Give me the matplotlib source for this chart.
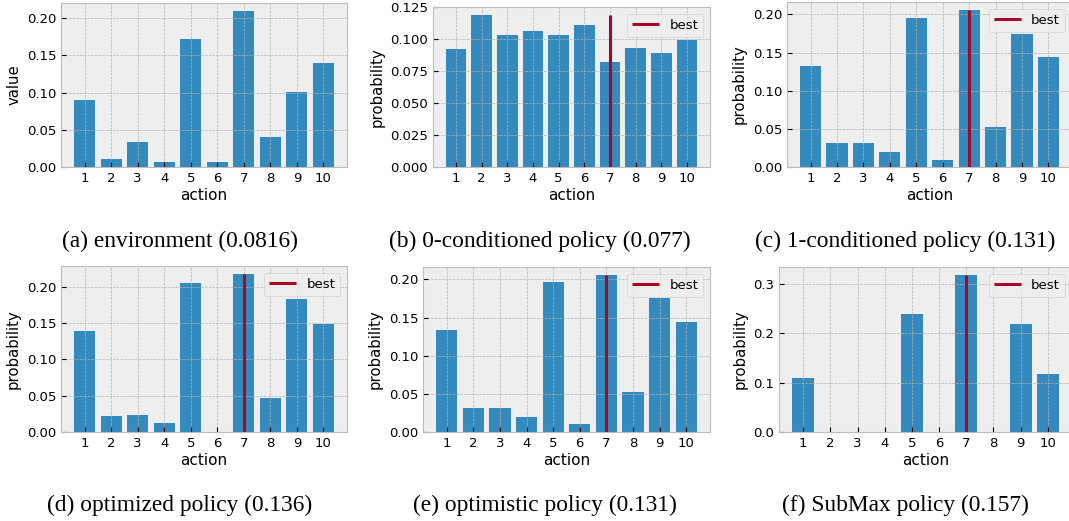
import numpy as np
import matplotlib
matplotlib.use("Agg")
import matplotlib.pyplot as plt

plt.style.use("bmh")

actions = np.arange(1, 11)
best = 7

env_value = [0.090, 0.011, 0.033, 0.007, 0.172, 0.007, 0.210, 0.041, 0.101, 0.140]
p_zero = [0.092, 0.119, 0.1035, 0.106, 0.103, 0.111, 0.082, 0.093, 0.089, 0.099]
p_one = [0.133, 0.031, 0.031, 0.020, 0.195, 0.009, 0.206, 0.052, 0.175, 0.144]
p_optimized = [0.139, 0.022, 0.023, 0.012, 0.206, 0.0005, 0.218, 0.047, 0.184, 0.149]
p_optimistic = [0.134, 0.031, 0.031, 0.020, 0.196, 0.010, 0.206, 0.052, 0.176, 0.144]
p_submax = [0.109, 0.001, 0.001, 0.001, 0.239, 0.001, 0.318, 0.001, 0.219, 0.117]

captions = ["(a) environment (0.0816)", "(b) 0-conditioned policy (0.077)",
            "(c) 1-conditioned policy (0.131)", "(d) optimized policy (0.136)",
            "(e) optimistic policy (0.131)", "(f) SubMax policy (0.157)"]

W, H = 1069, 521
fig = plt.figure(figsize=(W / 100, H / 100), dpi=100)
fig.patch.set_facecolor("white")

# left, right, top, bottom in pixels
boxes = [(61, 347, 3, 167), (433, 710, 7, 167), (787, 1072, 2, 167),
         (61, 347, 266, 432), (423, 710, 267, 432), (779, 1072, 267, 432)]
cap_pos = [(180, 241), (540, 241), (905, 241), (180, 505), (545, 505), (905, 505)]
series = [env_value, p_zero, p_one, p_optimized, p_optimistic, p_submax]

for i, (vals, (l, r, t, b)) in enumerate(zip(series, boxes)):
    ax = fig.add_axes([l / W, 1 - b / H, (r - l) / W, (b - t) / H])
    ax.bar(actions, vals, color="#348ABD", width=0.8)
    if i > 0:
        ax.vlines(best, 0, max(vals), color="#A60628", lw=2.2, label="best")
        ax.legend(loc="upper right", fontsize=9.5)
        ax.set_ylabel("probability", fontsize=10.7)
    else:
        ax.set_ylabel("value", fontsize=10.7)
    ax.set_xlabel("action", fontsize=11, labelpad=2)
    ax.set_xticks(actions)
    ax.tick_params(labelsize=9.5)
    if i == 1:
        ax.set_yticks([0, 0.025, 0.05, 0.075, 0.1, 0.125])
        ax.set_ylim(0, 0.125)
    if i == 5:
        ax.set_yticks([0, 0.1, 0.2, 0.3])
    cx, cy = cap_pos[i]
    fig.text(cx / W, 1 - cy / H, captions[i], ha="center", va="center",
             fontsize=16.8, family="Liberation Serif")

fig.savefig("out.png", dpi=100)
